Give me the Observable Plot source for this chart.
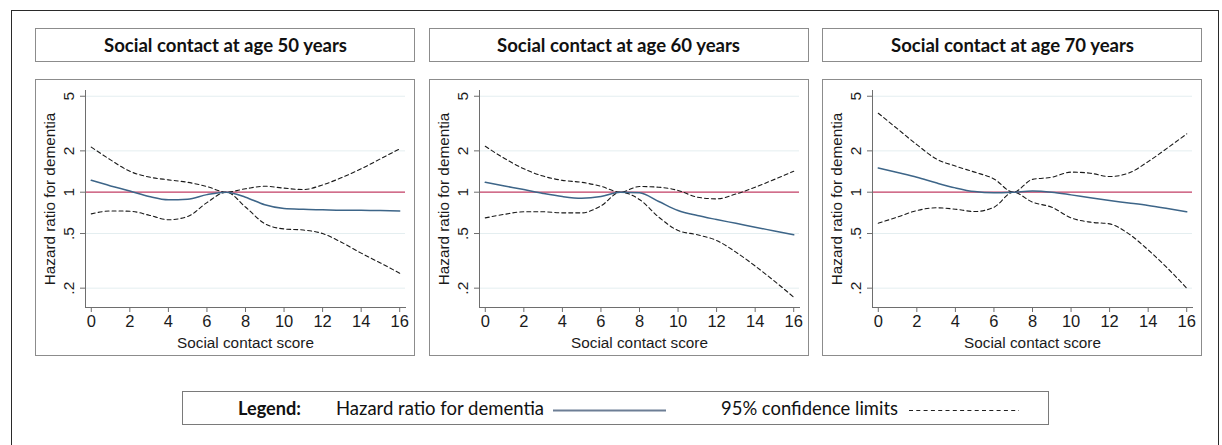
<!DOCTYPE html>
<html>
<head>
<meta charset="utf-8">
<script src="https://cdn.jsdelivr.net/npm/d3@7"></script>
<script src="https://cdn.jsdelivr.net/npm/@observablehq/plot@0.6"></script>
<style>
  html, body { margin: 0; padding: 0; background: #fff; }
  #root { position: relative; width: 1222px; height: 445px; overflow: hidden; }
  .frame { position: absolute; left: 11px; top: 10px; width: 1208px; height: 445px; border: 1.5px solid #2a2a2a; box-sizing: border-box; }
  .title { position: absolute; top: 28px; width: 380px; height: 34px; border: 1px solid #8c8c8c; box-sizing: border-box; }
  .box { position: absolute; top: 79px; width: 380px; height: 277px; border: 1px solid #8c8c8c; box-sizing: border-box; }
  .box svg { display: block; }
  .legend { position: absolute; left: 182px; top: 391px; width: 867px; height: 34px; border: 1px solid #7a7a7a; box-sizing: border-box; }
  .txt { position: absolute; white-space: nowrap; font-family: Lato, "Open Sans", sans-serif; color: #111;
         font-size: 18.5px; line-height: 1; transform-origin: 0 0; }
</style>
</head>
<body>
<div id="root"><div class="frame"></div></div>
<script>
// ---- data ----
const scores = [0,1,2,3,4,5,6,7,8,9,10,11,12,13,14,15,16];
const panelTitles = ["Social contact at age 50 years", "Social contact at age 60 years", "Social contact at age 70 years"];

const hr50 = [1.22,1.11,1.02,0.93,0.88,0.89,0.96,1.0,0.92,0.81,0.76,0.75,0.745,0.74,0.74,0.735,0.73];
const up50 = [2.13,1.72,1.42,1.29,1.23,1.18,1.10,1.0,1.06,1.105,1.07,1.045,1.13,1.28,1.48,1.75,2.07];
const lo50 = [0.695,0.73,0.727,0.68,0.63,0.665,0.84,1.0,0.78,0.59,0.54,0.53,0.50,0.43,0.36,0.305,0.257];

const hr60 = [1.18,1.11,1.045,0.98,0.93,0.905,0.93,1.0,0.99,0.855,0.735,0.676,0.632,0.593,0.556,0.522,0.49];
const up60 = [2.16,1.76,1.48,1.31,1.22,1.18,1.105,1.0,1.10,1.087,1.03,0.92,0.894,0.97,1.087,1.24,1.42];
const lo60 = [0.65,0.69,0.72,0.72,0.707,0.707,0.795,1.0,0.885,0.658,0.526,0.49,0.445,0.366,0.29,0.225,0.172];

const hr70 = [1.50,1.39,1.285,1.17,1.075,1.01,0.99,1.0,1.02,1.0,0.956,0.91,0.87,0.835,0.80,0.76,0.72];
const up70 = [3.76,2.89,2.22,1.75,1.55,1.40,1.25,1.0,1.24,1.285,1.40,1.375,1.30,1.38,1.67,2.1,2.66];
const lo70 = [0.594,0.66,0.735,0.77,0.752,0.723,0.777,1.0,0.846,0.777,0.65,0.605,0.588,0.497,0.38,0.28,0.2];

const xTicks = [0,2,4,6,8,10,12,14,16];
const yTicks = [0.2,0.5,1,2,5];
const yTickLabels = [".2",".5","1","2","5"];
const xLabel = "Social contact score";
const yLabel = "Hazard ratio for dementia";
const legendTitle = "Legend:";
const legendHR = "Hazard ratio for dementia";
const legendCI = "95% confidence limits";

const series = [[hr50,up50,lo50],[hr60,up60,lo60],[hr70,up70,lo70]];

// ---- styling ----
const HR_COLOR = "#3d6588";
const REF_COLOR = "#c23e64";
const GRID_COLOR = "#e4eef0";
const AXIS_COLOR = "#6e6e6e";
const panelLefts = [35, 428.5, 822];

const root = document.getElementById("root");

// place text (top-left origin), horizontally compressed to a target width
function placeText(parent, text, left, top, weight, targetWidth, center) {
  const s = document.createElement("span");
  s.className = "txt";
  s.textContent = text;
  s.style.fontWeight = weight;
  s.style.top = top + "px";
  parent.appendChild(s);
  const w = s.getBoundingClientRect().width;
  const k = targetWidth / w;
  const x = center ? left - targetWidth / 2 : left;
  s.style.left = x + "px";
  s.style.transform = `scaleX(${k})`;
  return s;
}

series.forEach(([hr, up, lo], p) => {
  const L = panelLefts[p];
  const t = document.createElement("div");
  t.className = "title";
  t.style.left = L + "px";
  root.appendChild(t);
  placeText(t, panelTitles[p], 189, 6.5, 700, 243, true);

  const box = document.createElement("div");
  box.className = "box";
  box.style.left = L + "px";
  root.appendChild(box);

  const rows = scores.map((s, i) => ({s, hr: hr[i], up: up[i], lo: lo[i]}));
  const tickFmt = d => yTickLabels[yTicks.indexOf(d)];

  const chart = Plot.plot({
    width: 378, height: 275,
    marginLeft: 49, marginRight: 9, marginTop: 10, marginBottom: 48,
    x: {domain: [-0.3, 16.3]},
    y: {type: "log", domain: [0.1446, 5.505]},
    style: {fontFamily: "'Liberation Sans', Arial, sans-serif", fontSize: "15.3px", color: "#1a1a1a", background: "transparent"},
    marks: [
      Plot.ruleY(yTicks.filter(d => d !== 1), {stroke: GRID_COLOR, strokeWidth: 1}),
      Plot.ruleY([1], {stroke: REF_COLOR, strokeWidth: 1.3}),
      Plot.line(rows, {x: "s", y: "up", stroke: "#1a1a1a", strokeWidth: 1.1, strokeDasharray: "4,3", curve: "monotone-x"}),
      Plot.line(rows, {x: "s", y: "lo", stroke: "#1a1a1a", strokeWidth: 1.1, strokeDasharray: "4,3", curve: "monotone-x"}),
      Plot.line(rows, {x: "s", y: "hr", stroke: HR_COLOR, strokeWidth: 1.5, curve: "monotone-x"}),
      Plot.frame({anchor: "left", stroke: AXIS_COLOR}),
      Plot.frame({anchor: "bottom", stroke: AXIS_COLOR}),
      Plot.axisX({ticks: xTicks, tickSize: 5, tickPadding: 3, stroke: AXIS_COLOR, label: null, fontSize: 16.5, tickFormat: d => String(d)}),
      Plot.axisY({ticks: yTicks, tickSize: 5, tickRotate: -90, tickPadding: 7, stroke: AXIS_COLOR, label: null, fontSize: 15.5, tickFormat: tickFmt}),
      Plot.text([xLabel], {frameAnchor: "bottom", dy: 36, lineAnchor: "middle", fill: "#1a1a1a"}),
      Plot.text([yLabel], {frameAnchor: "left", dx: -35, rotate: -90, textAnchor: "middle", lineAnchor: "middle", fill: "#1a1a1a"})
    ]
  });
  box.appendChild(chart);
});

// ---- legend ----
const leg = document.createElement("div");
leg.className = "legend";
root.appendChild(leg);
placeText(leg, legendTitle, 54.5, 7, 700, 63, false);
placeText(leg, legendHR, 153, 7, 400, 208, false);
placeText(leg, legendCI, 538, 7, 400, 177, false);
const ls = document.createElementNS("http://www.w3.org/2000/svg", "svg");
ls.setAttribute("width", 867); ls.setAttribute("height", 32);
ls.style.position = "absolute"; ls.style.left = "0"; ls.style.top = "0";
ls.innerHTML = `<line x1="370" x2="483" y1="18.5" y2="18.5" stroke="#6d7e95" stroke-width="2"/>
<line x1="726" x2="836" y1="18.5" y2="18.5" stroke="#222" stroke-width="1.1" stroke-dasharray="4,3.3"/>`;
leg.appendChild(ls);
</script>
</body>
</html>
